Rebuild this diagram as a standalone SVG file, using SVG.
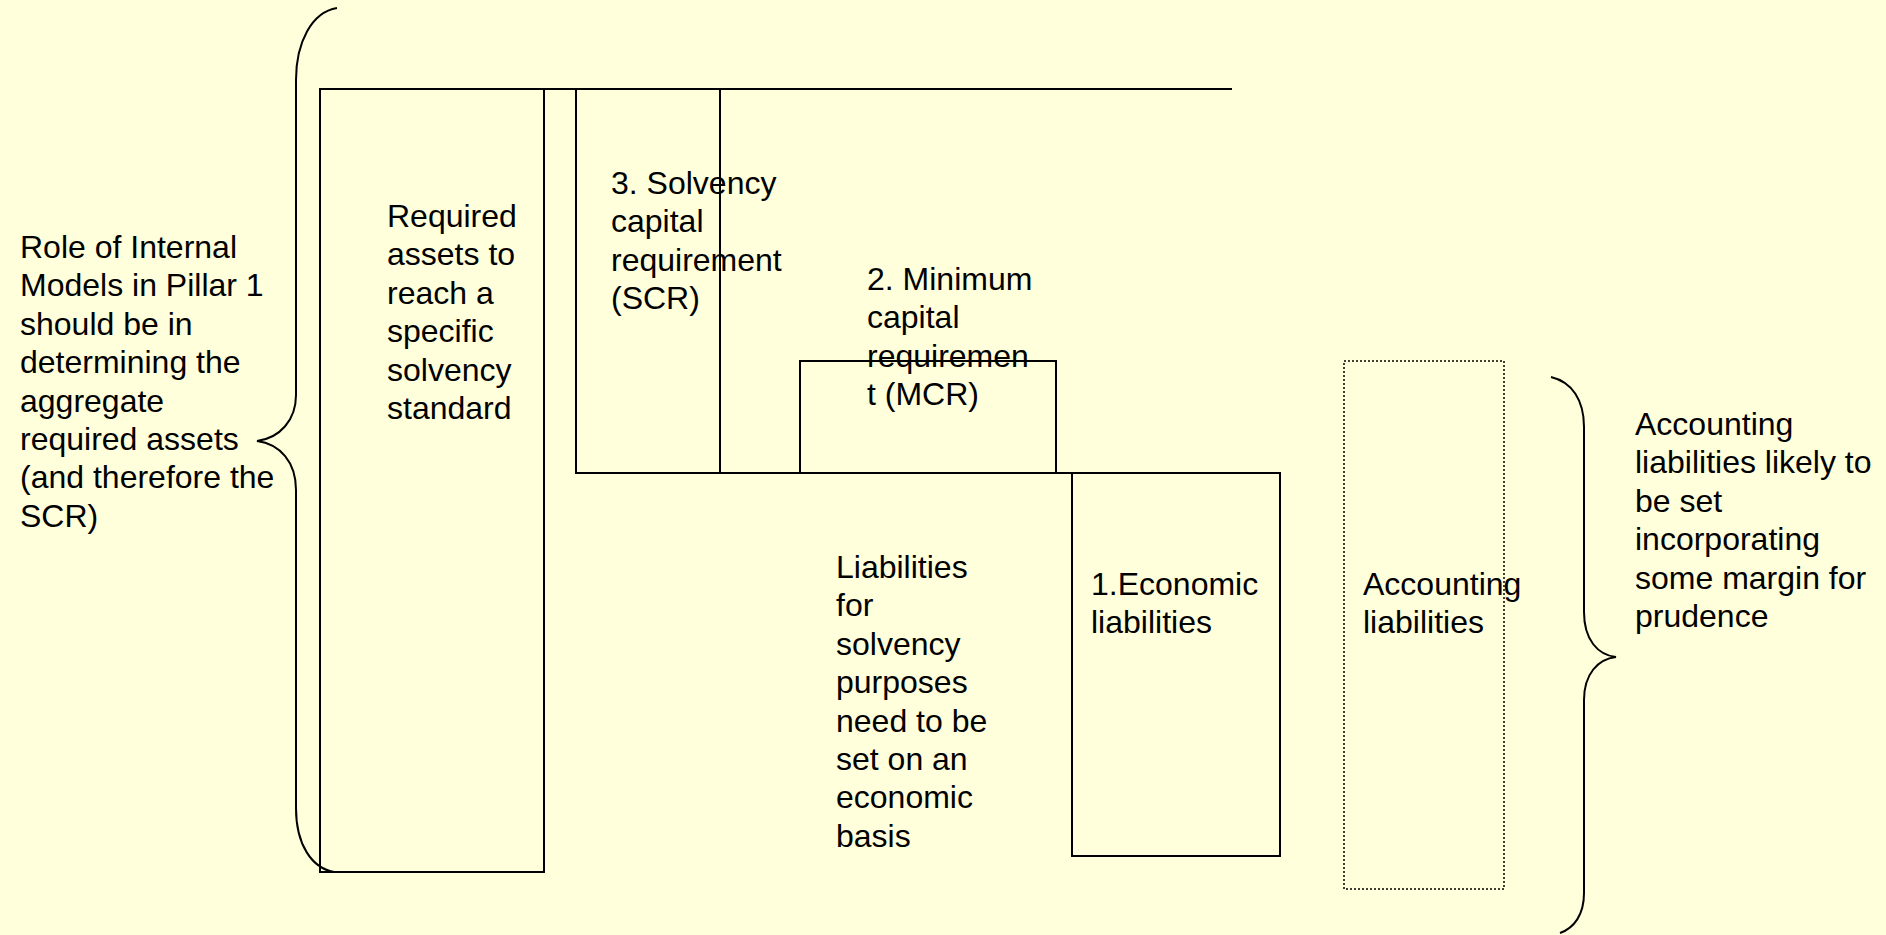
<svg xmlns="http://www.w3.org/2000/svg" width="1886" height="935" viewBox="0 0 1886 935">
<style>
.t{font-family:"Liberation Sans",Arial,sans-serif;font-size:32px;fill:#000}
.box{fill:none;stroke:#000;stroke-width:2}
.dot{fill:none;stroke:#000;stroke-width:1.5;stroke-dasharray:2 2}
.br{fill:none;stroke:#000;stroke-width:2}
</style>
<rect x="0" y="0" width="1886" height="935" fill="#FFFFDB"/>
<g id="connectors">
<line class="box" x1="320" y1="89" x2="1232" y2="89"/>
</g>
<g id="required-assets">
<rect class="box" x="320" y="89" width="224" height="783"/>
<text class="t" x="387" y="227"><tspan x="387">Required</tspan><tspan x="387" dy="38.4">assets to</tspan><tspan x="387" dy="38.4">reach a</tspan><tspan x="387" dy="38.4">specific</tspan><tspan x="387" dy="38.4">solvency</tspan><tspan x="387" dy="38.4">standard</tspan></text>
</g>
<g id="scr">
<polyline class="box" points="576,89 576,473 1072,473"/>
<line class="box" x1="720" y1="89" x2="720" y2="473"/>
<text class="t" x="611" y="194"><tspan x="611">3. Solvency</tspan><tspan x="611" dy="38.4">capital</tspan><tspan x="611" dy="38.4">requirement</tspan><tspan x="611" dy="38.4">(SCR)</tspan></text>
</g>
<g id="mcr">
<rect class="box" x="800" y="361" width="256" height="112"/>
<text class="t" x="867" y="290"><tspan x="867">2. Minimum</tspan><tspan x="867" dy="38.4">capital</tspan><tspan x="867" dy="38.4">requiremen</tspan><tspan x="867" dy="38.4">t (MCR)</tspan></text>
</g>
<g id="economic-liabilities">
<rect class="box" x="1072" y="473" width="208" height="383"/>
<text class="t" x="1091" y="595"><tspan x="1091">1.Economic</tspan><tspan x="1091" dy="38.4">liabilities</tspan></text>
</g>
<g id="liabilities-note">
<text class="t" x="836" y="578"><tspan x="836">Liabilities</tspan><tspan x="836" dy="38.4">for</tspan><tspan x="836" dy="38.4">solvency</tspan><tspan x="836" dy="38.4">purposes</tspan><tspan x="836" dy="38.4">need to be</tspan><tspan x="836" dy="38.4">set on an</tspan><tspan x="836" dy="38.4">economic</tspan><tspan x="836" dy="38.4">basis</tspan></text>
</g>
<g id="accounting-liabilities">
<rect class="dot" x="1344" y="361" width="160" height="528"/>
<text class="t" x="1363" y="595"><tspan x="1363">Accounting</tspan><tspan x="1363" dy="38.4">liabilities</tspan></text>
</g>
<g id="internal-models-note">
<path class="br" d="M337,8 C312,12 296,42 296,80 L296,395 C296,420 280,438 257,441 C280,444 296,462 296,490 L296,808 C296,845 312,868 334,872"/>
<text class="t" x="20" y="258"><tspan x="20">Role of Internal</tspan><tspan x="20" dy="38.4">Models in Pillar 1</tspan><tspan x="20" dy="38.4">should be in</tspan><tspan x="20" dy="38.4">determining the</tspan><tspan x="20" dy="38.4">aggregate</tspan><tspan x="20" dy="38.4">required assets</tspan><tspan x="20" dy="38.4">(and therefore the</tspan><tspan x="20" dy="38.4">SCR)</tspan></text>
</g>
<g id="prudence-note">
<path class="br" d="M1551,377 C1572,382 1584,400 1584,427 L1584,612 C1584,640 1598,655 1616,657 C1598,659 1584,674 1584,700 L1584,893 C1584,915 1574,928 1560,933"/>
<text class="t" x="1635" y="435"><tspan x="1635">Accounting</tspan><tspan x="1635" dy="38.4">liabilities likely to</tspan><tspan x="1635" dy="38.4">be set</tspan><tspan x="1635" dy="38.4">incorporating</tspan><tspan x="1635" dy="38.4">some margin for</tspan><tspan x="1635" dy="38.4">prudence</tspan></text>
</g>
</svg>
